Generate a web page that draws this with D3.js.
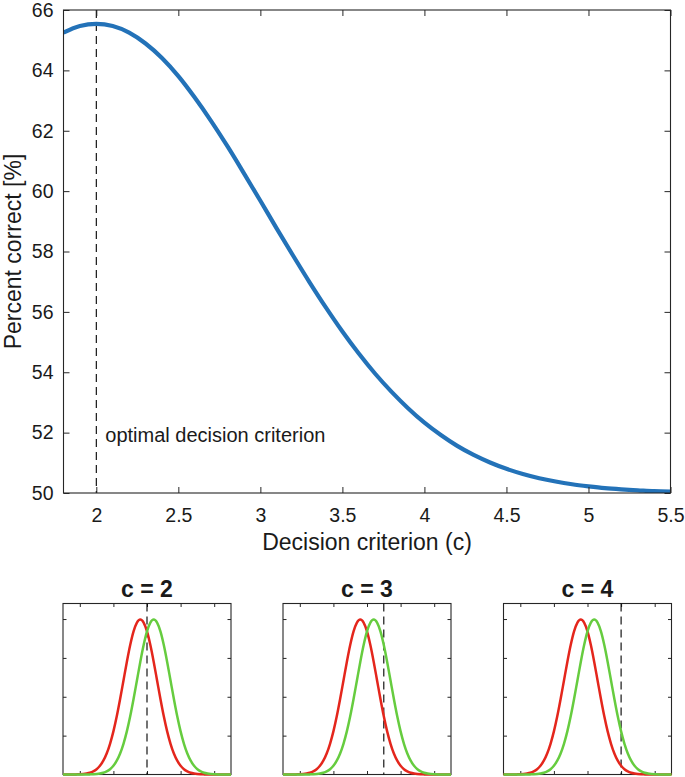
<!DOCTYPE html>
<html><head><meta charset="utf-8">
<script src="https://cdn.jsdelivr.net/npm/d3@7"></script>
<style>body{margin:0;background:#fff}svg{display:block}text{font-family:"Liberation Sans",Arial,Helvetica,sans-serif;fill:#1a1a1a}</style>
</head><body><div id="chart"></div>
<script>
// Main curve: decision criterion vs percent correct
const criterion = [1.8,1.9,2.0,2.1,2.2,2.3,2.4,2.5,2.6,2.7,2.8,2.9,3.0,3.1,3.2,3.3,3.4,3.5,3.6,3.7,3.8,3.9,4.0,4.1,4.2,4.3,4.4,4.5,4.6,4.7,4.8,4.9,5.0,5.1,5.2,5.3,5.4,5.5];
const percentCorrect = [65.25,65.47,65.54,65.47,65.25,64.89,64.41,63.81,63.10,62.32,61.48,60.59,59.68,58.76,57.86,56.98,56.14,55.35,54.62,53.95,53.35,52.81,52.33,51.92,51.56,51.26,51.01,50.80,50.63,50.49,50.38,50.29,50.22,50.16,50.12,50.09,50.06,50.05];
const optimalCriterion = 2;
const xTicks = [2,2.5,3,3.5,4,4.5,5,5.5];
const yTicks = [50,52,54,56,58,60,62,64,66];

// Small panels: distributions
const panelCriteria = [2,3,4];
const distX = [-3,-2.8,-2.6,-2.4,-2.2,-2,-1.8,-1.6,-1.4,-1.2,-1,-0.8,-0.6,-0.4,-0.2,0,0.2,0.4,0.6,0.8,1,1.2,1.4,1.6,1.8,2,2.2,2.4,2.6,2.8,3,3.2,3.4,3.6,3.8,4,4.2,4.4,4.6,4.8,5,5.2,5.4,5.6,5.8,6,6.2,6.4,6.6,6.8,7];
const noiseY = [0,0,0.0001,0.0001,0.0003,0.0006,0.0012,0.0024,0.0044,0.0079,0.0136,0.0224,0.0355,0.0540,0.0790,0.1109,0.1497,0.1942,0.2420,0.2897,0.3332,0.3683,0.3910,0.3989,0.3910,0.3683,0.3332,0.2897,0.2420,0.1942,0.1497,0.1109,0.0790,0.0540,0.0355,0.0224,0.0136,0.0079,0.0044,0.0024,0.0012,0.0006,0.0003,0.0001,0.0001,0,0,0,0,0,0];
const signalY = [0,0,0,0,0,0,0.0001,0.0001,0.0003,0.0006,0.0012,0.0024,0.0044,0.0079,0.0136,0.0224,0.0355,0.0540,0.0790,0.1109,0.1497,0.1942,0.2420,0.2897,0.3332,0.3683,0.3910,0.3989,0.3910,0.3683,0.3332,0.2897,0.2420,0.1942,0.1497,0.1109,0.0790,0.0540,0.0355,0.0224,0.0136,0.0079,0.0044,0.0024,0.0012,0.0006,0.0003,0.0001,0.0001,0,0];
const panelXTicks = [-2,0,2,4,6];
const panelYTicks = [0.1,0.2,0.3,0.4];

const W = 685, H = 777;
const svg = d3.select("#chart").append("svg").attr("width", W).attr("height", H);
const axisColor = "#262626";

// ---- main plot ----
const m = {l:63.5, r:670.5, t:10, b:493};
const x = d3.scaleLinear().domain([1.8,5.5]).range([m.l, m.r]);
const y = d3.scaleLinear().domain([50,66]).range([m.b, m.t]);
const g = svg.append("g");

g.append("defs").append("clipPath").attr("id","mainclip").append("rect")
  .attr("x", m.l).attr("y", m.t).attr("width", m.r-m.l).attr("height", m.b-m.t);

// dashed optimal line
g.append("line").attr("x1", x(optimalCriterion)).attr("x2", x(optimalCriterion))
  .attr("y1", m.t).attr("y2", m.b).attr("stroke","#000").attr("stroke-width",1.1)
  .attr("stroke-dasharray","8,5");

g.append("path").datum(criterion.map((c,i)=>[c,percentCorrect[i]]))
  .attr("clip-path","url(#mainclip)")
  .attr("d", d3.line().x(d=>x(d[0])).y(d=>y(d[1])).curve(d3.curveMonotoneX))
  .attr("fill","none").attr("stroke","#2372b8").attr("stroke-width",4.2);

function styleAxis(sel){
  sel.select(".domain").remove();
  sel.selectAll(".tick line").attr("stroke", axisColor).attr("stroke-width",1);
  sel.selectAll(".tick text").attr("fill","#1a1a1a");
}
const tl = 6;
g.append("g").attr("transform",`translate(0,${m.b})`)
  .call(d3.axisBottom(x).tickValues(xTicks).tickSizeInner(-tl).tickSizeOuter(0).tickPadding(15).tickFormat(d3.format("")))
  .call(styleAxis).selectAll("text").style("font-size","19.5px");
g.append("g").attr("transform",`translate(0,${m.t})`)
  .call(d3.axisTop(x).tickValues(xTicks).tickSizeInner(-tl).tickSizeOuter(0).tickFormat(""))
  .call(styleAxis);
g.append("g").attr("transform",`translate(${m.l},0)`)
  .call(d3.axisLeft(y).tickValues(yTicks).tickSizeInner(-tl).tickSizeOuter(0).tickPadding(10).tickFormat(d3.format("")))
  .call(styleAxis).selectAll("text").style("font-size","19.5px");
g.append("g").attr("transform",`translate(${m.r},0)`)
  .call(d3.axisRight(y).tickValues(yTicks).tickSizeInner(-tl).tickSizeOuter(0).tickFormat(""))
  .call(styleAxis);
g.append("rect").attr("x",m.l).attr("y",m.t).attr("width",m.r-m.l).attr("height",m.b-m.t)
  .attr("fill","none").attr("stroke",axisColor).attr("stroke-width",1.1);

g.append("text").attr("x", x(optimalCriterion)+9).attr("y", 442)
  .style("font-size","20px").text("optimal decision criterion");
g.append("text").attr("x", (m.l+m.r)/2).attr("y", 550).attr("text-anchor","middle")
  .style("font-size","23px").text("Decision criterion (c)");
g.append("text").attr("transform",`translate(21,${(m.t+m.b)/2}) rotate(-90)`)
  .attr("text-anchor","middle").style("font-size","23px").text("Percent correct [%]");

// ---- small panels ----
const panelLefts = [63, 283, 503.5];
const pw = 168, pt = 603.5, pb = 774.5;
panelCriteria.forEach((c, i) => {
  const px = d3.scaleLinear().domain([-3,7]).range([panelLefts[i], panelLefts[i]+pw]);
  const py = d3.scaleLinear().domain([0,0.44]).range([pb, pt]);
  const pg = svg.append("g");
  const st = 3.5;
  pg.append("g").attr("transform",`translate(0,${pb})`)
    .call(d3.axisBottom(px).tickValues(panelXTicks).tickSizeInner(-st).tickSizeOuter(0).tickFormat("")).call(styleAxis);
  pg.append("g").attr("transform",`translate(0,${pt})`)
    .call(d3.axisTop(px).tickValues(panelXTicks).tickSizeInner(-st).tickSizeOuter(0).tickFormat("")).call(styleAxis);
  pg.append("g").attr("transform",`translate(${panelLefts[i]},0)`)
    .call(d3.axisLeft(py).tickValues(panelYTicks).tickSizeInner(-st).tickSizeOuter(0).tickFormat("")).call(styleAxis);
  pg.append("g").attr("transform",`translate(${panelLefts[i]+pw},0)`)
    .call(d3.axisRight(py).tickValues(panelYTicks).tickSizeInner(-st).tickSizeOuter(0).tickFormat("")).call(styleAxis);
  pg.append("rect").attr("x",panelLefts[i]).attr("y",pt).attr("width",pw).attr("height",pb-pt)
    .attr("fill","none").attr("stroke",axisColor).attr("stroke-width",1.1);

  pg.append("line").attr("x1",px(c)).attr("x2",px(c)).attr("y1",pt).attr("y2",pb)
    .attr("stroke","#000").attr("stroke-width",1.1).attr("stroke-dasharray","8,5");

  const line = d3.line().x(d=>px(d[0])).y(d=>py(d[1])).curve(d3.curveMonotoneX);
  pg.append("path").datum(distX.map((v,k)=>[v,noiseY[k]])).attr("d", line)
    .attr("fill","none").attr("stroke","#e4261c").attr("stroke-width",2.5);
  pg.append("path").datum(distX.map((v,k)=>[v,signalY[k]])).attr("d", line)
    .attr("fill","none").attr("stroke","#66cc3f").attr("stroke-width",2.5);

  pg.append("text").attr("x", panelLefts[i]+pw/2).attr("y", 597).attr("text-anchor","middle")
    .style("font-size","23px").style("font-weight","bold").text(`c = ${c}`);
});
</script></body></html>
